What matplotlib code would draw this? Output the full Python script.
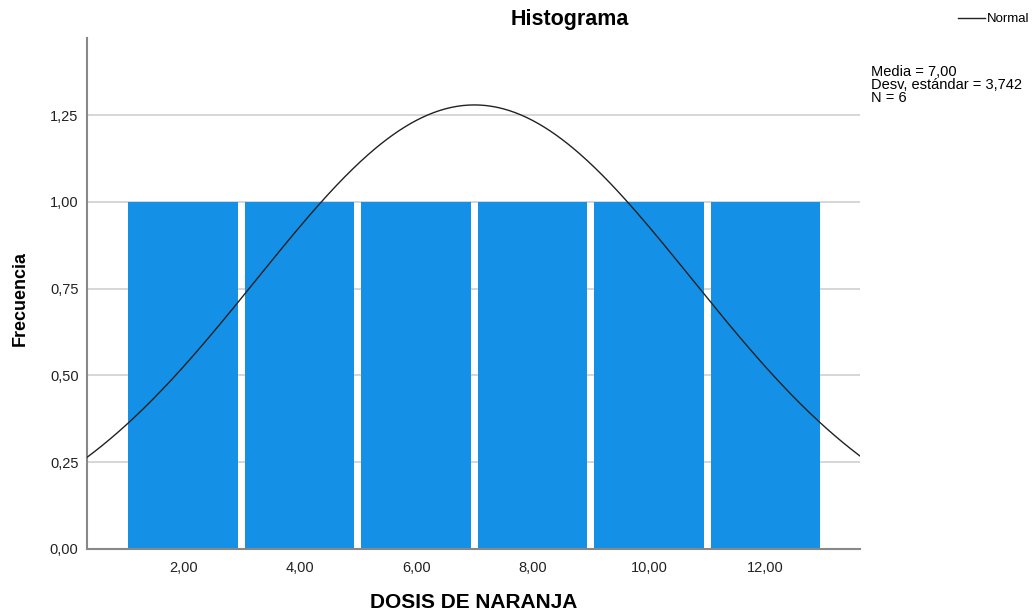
import numpy as np
import matplotlib
matplotlib.use("Agg")
import matplotlib.pyplot as plt
from matplotlib.ticker import FuncFormatter
from matplotlib import font_manager

plt.rcParams['font.family'] = ['Liberation Sans', 'DejaVu Sans']

# Data
bin_edges = [1, 3, 5, 7, 9, 11, 13]
counts = [1, 1, 1, 1, 1, 1]
mean = 7.00
sd = 3.742
n = 6
xticks = [2, 4, 6, 8, 10, 12]
yticks = [0.0, 0.25, 0.5, 0.75, 1.0, 1.25]

names = {f.name for f in font_manager.fontManager.ttflist}
narrow = 'Liberation Sans Narrow' if 'Liberation Sans Narrow' in names else 'Liberation Sans'
ylab_size = 15.5 if narrow == 'Liberation Sans Narrow' else 13

fig = plt.figure(figsize=(10.35, 6.14), dpi=100)
ax = fig.add_axes([0.084, 0.106, 0.747, 0.832])

widths = np.diff(bin_edges)
gap = 0.06
ax.bar(np.array(bin_edges[:-1]) + gap, counts, width=widths - 2 * gap, align='edge',
       color='#1490E6', linewidth=0, zorder=2)

xlim = (0.35, 13.62)
xs = np.linspace(xlim[0], xlim[1], 400)
bw = widths[0]
ys = n * bw / (sd * np.sqrt(2 * np.pi)) * np.exp(-0.5 * ((xs - mean) / sd) ** 2)
ax.plot(xs, ys, color='#222222', linewidth=1.0, zorder=3)

ax.set_xlim(*xlim)
ax.set_ylim(0, 1.472)
ax.set_xticks(xticks)
ax.set_yticks(yticks)
fmt = FuncFormatter(lambda v, p: f"{v:.2f}".replace('.', ','))
ax.xaxis.set_major_formatter(fmt)
ax.yaxis.set_major_formatter(fmt)
ax.tick_params(axis='both', length=0, labelsize=10.5, colors='#222222')
ax.tick_params(axis='x', pad=9)
ax.tick_params(axis='y', pad=6)
ax.grid(axis='y', color='#d0d0d0', linewidth=1.2, zorder=0)
ax.set_axisbelow(True)
for s in ['top', 'right']:
    ax.spines[s].set_visible(False)
for s in ['left', 'bottom']:
    ax.spines[s].set_color('#888888')
    ax.spines[s].set_linewidth(1.5)

fig.text(474 / 1035, 1 - 602 / 614, 'DOSIS DE NARANJA', ha='center', va='center',
         fontsize=15, fontweight='bold')
fig.text(20 / 1035, 1 - 298 / 614, 'Frecuencia', ha='center', va='center', rotation=90,
         fontsize=ylab_size, fontweight='bold', family=[narrow, 'DejaVu Sans'])

fig.text(570 / 1035, 1 - 20 / 614, 'Histograma', ha='center', va='center',
         fontsize=15.5, fontweight='bold')

# legend
fig.lines.append(plt.Line2D([958 / 1035, 985 / 1035], [1 - 18 / 614, 1 - 18 / 614],
                            transform=fig.transFigure, color='#222222', linewidth=1.0))
fig.text(987 / 1035, 1 - 19 / 614, 'Normal', ha='left', va='center', fontsize=9.5)
fig.text(871 / 1035, 1 - 65 / 614,
         f"Media = {mean:.2f}".replace('.', ',') + "\n" +
         f"Desv. estándar = {sd:.3f}".replace('.', ',') + "\n" +
         f"N = {n}", ha='left', va='top', fontsize=10.5, linespacing=0.9)

fig.savefig('out.png', dpi=100)
